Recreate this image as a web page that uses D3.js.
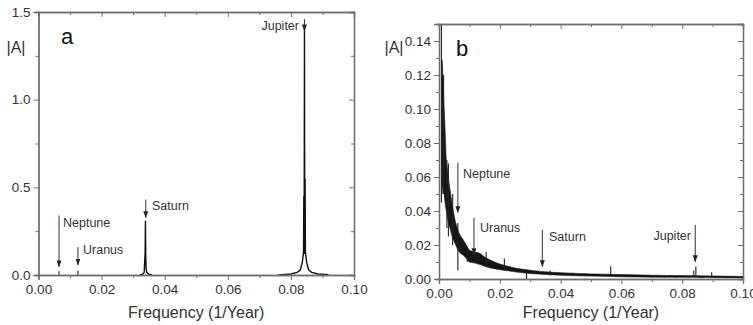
<!DOCTYPE html>
<html>
<head>
<meta charset="utf-8">
<script src="https://cdn.jsdelivr.net/npm/d3@7"></script>
<style>
  body { margin: 0; background: #fff; }
  svg { display: block; font-family: 'Liberation Sans', Arial, sans-serif; }
</style>
</head>
<body>
<div id="chart"></div>
<script>
// ---- panel a : spectrum of the planetary signal (freq, |A|) ----
const jupiterFreq = [0.0760, 0.0780, 0.0800, 0.0820, 0.0830, 0.0836, 0.0840, 0.0841, 0.0842, 0.0843, 0.0844, 0.0845, 0.0846, 0.0850, 0.0856, 0.0866, 0.0886, 0.0920];
const jupiterAmp = [0.000, 0.003, 0.006, 0.015, 0.030, 0.070, 0.130, 0.450, 0.120, 1.420, 0.120, 0.550, 0.130, 0.070, 0.030, 0.015, 0.006, 0.002];
const saturnFreq = [0.0320, 0.0330, 0.0335, 0.0338, 0.0339, 0.0340, 0.0341, 0.0343, 0.0350, 0.0360];
const saturnAmp = [0.000, 0.005, 0.015, 0.130, 0.310, 0.100, 0.040, 0.015, 0.004, 0.000];
const smallFreq = [0.0065, 0.0125];
const smallAmp = [0.022, 0.025];

// ---- panel b : spectrum of the residual (band envelope + spikes) ----
const bandFreq = [0.0010, 0.0013, 0.0017, 0.0020, 0.0024, 0.0028, 0.0032, 0.0036, 0.0040, 0.0045, 0.0050, 0.0055, 0.0060, 0.0066, 0.0072, 0.0080, 0.0090, 0.0100, 0.0115, 0.0135, 0.0150, 0.0170, 0.0200, 0.0220, 0.0250, 0.0300, 0.0350, 0.0400, 0.0500, 0.0600, 0.0700, 0.0800, 0.0900, 0.1000];
const bandLow = [0.050, 0.055, 0.050, 0.045, 0.040, 0.036, 0.032, 0.030, 0.027, 0.024, 0.022, 0.020, 0.018, 0.016, 0.015, 0.014, 0.012, 0.010, 0.0095, 0.0085, 0.0075, 0.0065, 0.0055, 0.005, 0.0042, 0.0032, 0.0027, 0.0022, 0.0017, 0.0013, 0.0011, 0.0010, 0.0009, 0.0007];
const bandHigh = [0.129, 0.119, 0.100, 0.088, 0.070, 0.064, 0.058, 0.053, 0.048, 0.042, 0.037, 0.033, 0.030, 0.027, 0.025, 0.023, 0.020, 0.017, 0.016, 0.015, 0.013, 0.011, 0.0088, 0.0078, 0.0065, 0.0052, 0.0042, 0.0037, 0.0030, 0.0026, 0.0022, 0.0020, 0.0018, 0.0015];
const tailFreq = [0.020, 0.022, 0.024, 0.026, 0.028, 0.030, 0.032, 0.034, 0.036, 0.038, 0.040, 0.042, 0.044, 0.046, 0.048, 0.050, 0.052, 0.054, 0.056, 0.058, 0.060, 0.062, 0.064, 0.066, 0.068, 0.070, 0.072, 0.074, 0.076, 0.078, 0.080, 0.082, 0.084, 0.086, 0.088, 0.090, 0.092, 0.094, 0.096, 0.098, 0.100];
const tailAmp = [0.0070, 0.0055, 0.0062, 0.0048, 0.0052, 0.0040, 0.0044, 0.0034, 0.0038, 0.0030, 0.0033, 0.0026, 0.0031, 0.0024, 0.0028, 0.0022, 0.0026, 0.0019, 0.0024, 0.0018, 0.0021, 0.0016, 0.0020, 0.0015, 0.0019, 0.0014, 0.0018, 0.0013, 0.0017, 0.0012, 0.0016, 0.0013, 0.0018, 0.0011, 0.0015, 0.0012, 0.0014, 0.0010, 0.0013, 0.0010, 0.0011];
const spikeFreq = [0.0008, 0.0015, 0.0026, 0.0031, 0.0045, 0.0062, 0.0093, 0.0155, 0.0215, 0.0288, 0.0365, 0.0565, 0.0838, 0.0845, 0.0897];
const spikeLow = [0.045, 0.050, 0.030, 0.025, 0.020, 0.005, 0.010, 0.007, 0.005, 0.000, 0.002, 0.002, 0.002, 0.002, 0.001];
const spikeHigh = [0.150, 0.120, 0.070, 0.068, 0.050, 0.033, 0.019, 0.016, 0.012, 0.004, 0.005, 0.0075, 0.005, 0.0073, 0.004];

// ---- planet annotations ----
const planets = ['Neptune', 'Uranus', 'Saturn', 'Jupiter'];
const arrowFreqA = [0.0065, 0.0125, 0.0340, 0.0843];
const arrowTopA = [0.34, 0.16, 0.43, 1.46];
const arrowEndA = [0.045, 0.055, 0.325, 1.39];
const arrowFreqB = [0.0062, 0.0115, 0.0340, 0.0843];
const arrowTopB = [0.0684, 0.0360, 0.0289, 0.0318];
const arrowEndB = [0.0389, 0.0141, 0.0071, 0.0100];

const xTicks = [0, 0.02, 0.04, 0.06, 0.08, 0.10];
const yTicksA = [0, 0.5, 1.0, 1.5];
const yTicksB = [0, 0.02, 0.04, 0.06, 0.08, 0.10, 0.12, 0.14];

const width = 753;
const height = 325;
const frameColor = '#6f6f6f';
const textColor = '#333';

const svg = d3.select('#chart').append('svg').attr('width', width).attr('height', height);

const defs = svg.append('defs');
// arrowhead pointing along the line direction
defs.append('marker')
  .attr('id', 'head')
  .attr('viewBox', '0 0 8 6')
  .attr('refX', 8)
  .attr('refY', 3)
  .attr('markerWidth', 7)
  .attr('markerHeight', 5)
  .attr('markerUnits', 'userSpaceOnUse')
  .attr('orient', 'auto')
  .append('path')
  .attr('d', 'M0,0 L8,3 L0,6 Z')
  .attr('fill', '#222');

function drawFrame(p) {
  const g = svg.append('g');
  const fmtX = d3.format('.2f');

  // bottom axis, outward ticks
  g.append('g')
    .attr('transform', `translate(0,${p.y.range()[0]})`)
    .call(d3.axisBottom(p.x).tickValues(p.xMinor).tickSize(3).tickFormat(''));
  g.append('g')
    .attr('transform', `translate(0,${p.y.range()[0]})`)
    .call(d3.axisBottom(p.x).tickValues(xTicks).tickSize(5).tickPadding(4).tickFormat(fmtX));
  // left axis
  g.append('g')
    .attr('transform', `translate(${p.x.range()[0]},0)`)
    .call(d3.axisLeft(p.y).tickValues(p.yMinor).tickSize(3).tickFormat(''));
  g.append('g')
    .attr('transform', `translate(${p.x.range()[0]},0)`)
    .call(d3.axisLeft(p.y).tickValues(p.yTicks).tickSize(5).tickPadding(3).tickFormat(p.yFmt));
  // top and right mirrors, inward ticks
  g.append('g')
    .attr('transform', `translate(0,${p.y.range()[1]})`)
    .call(d3.axisTop(p.x).tickValues(xTicks).tickSize(-5).tickFormat(''));
  g.append('g')
    .attr('transform', `translate(0,${p.y.range()[1]})`)
    .call(d3.axisTop(p.x).tickValues(p.xMinor).tickSize(-3).tickFormat(''));
  g.append('g')
    .attr('transform', `translate(${p.x.range()[1]},0)`)
    .call(d3.axisRight(p.y).tickValues(p.yTicks).tickSize(-5).tickFormat(''));
  g.append('g')
    .attr('transform', `translate(${p.x.range()[1]},0)`)
    .call(d3.axisRight(p.y).tickValues(p.yMinor).tickSize(-3).tickFormat(''));

  g.selectAll('.domain').attr('stroke', frameColor).attr('stroke-width', 1.3);
  g.selectAll('.tick line').attr('stroke', frameColor).attr('stroke-width', 1);
  g.selectAll('.tick text')
    .attr('fill', textColor)
    .style('font-size', '13.5px')
    .style('font-family', "'Liberation Sans', Arial, sans-serif");

  // axis titles and panel letter
  const cx = (p.x.range()[0] + p.x.range()[1]) / 2;
  svg.append('text')
    .attr('x', cx)
    .attr('y', 318)
    .attr('text-anchor', 'middle')
    .attr('fill', textColor)
    .style('font-size', '16px')
    .text('Frequency (1/Year)');
  svg.append('text')
    .attr('x', p.ylabX)
    .attr('y', 53)
    .attr('text-anchor', 'middle')
    .attr('fill', textColor)
    .style('font-size', '16px')
    .text('|A|');
  svg.append('text')
    .attr('x', p.letterX)
    .attr('y', p.letterY)
    .attr('text-anchor', 'middle')
    .attr('fill', '#111')
    .style('font-size', '22px')
    .text(p.letter);
}

function drawArrows(p, freq, top, end, labelX, labelY, anchors) {
  const g = svg.append('g');
  planets.forEach((name, i) => {
    g.append('line')
      .attr('x1', p.x(freq[i]))
      .attr('x2', p.x(freq[i]))
      .attr('y1', p.y(top[i]))
      .attr('y2', p.y(end[i]))
      .attr('stroke', '#444')
      .attr('stroke-width', 1.1)
      .attr('marker-end', 'url(#head)');
    g.append('text')
      .attr('x', labelX[i])
      .attr('y', labelY[i])
      .attr('text-anchor', anchors[i])
      .attr('fill', textColor)
      .style('font-size', '12.5px')
      .text(name);
  });
}

// ---------------- panel a ----------------
const xA = d3.scaleLinear().domain([0, 0.1]).range([38.5, 354]);
const yA = d3.scaleLinear().domain([0, 1.5]).range([275, 12]);
const pA = {
  x: xA, y: yA,
  xMinor: [0.01, 0.03, 0.05, 0.07, 0.09],
  yTicks: yTicksA,
  yMinor: [0.25, 0.75, 1.25],
  yFmt: d3.format('.1f'),
  ylabX: 16, letter: 'a', letterX: 67, letterY: 44,
};

const lineA = d3.line().x((d) => xA(d[0])).y((d) => yA(d[1]));
const gA = svg.append('g');
gA.append('path')
  .attr('d', lineA(jupiterFreq.map((f, i) => [f, jupiterAmp[i]])))
  .attr('stroke', '#111').attr('stroke-width', 1.4).attr('fill', 'none');
gA.append('path')
  .attr('d', lineA(saturnFreq.map((f, i) => [f, saturnAmp[i]])))
  .attr('stroke', '#111').attr('stroke-width', 1.4).attr('fill', 'none');
gA.selectAll('.small')
  .data(smallFreq)
  .join('line')
  .attr('x1', (d) => xA(d)).attr('x2', (d) => xA(d))
  .attr('y1', yA(0)).attr('y2', (d, i) => yA(smallAmp[i]))
  .attr('stroke', '#333').attr('stroke-width', 1.2);

drawFrame(pA);
drawArrows(pA, arrowFreqA, arrowTopA, arrowEndA, [63, 83, 152, 299], [227, 254, 210, 30], ['start', 'start', 'start', 'end']);

// ---------------- panel b ----------------
const xB = d3.scaleLinear().domain([0, 0.1]).range([439, 743]);
const yB = d3.scaleLinear().domain([0, 0.15]).range([279, 24]);
const pB = {
  x: xB, y: yB,
  xMinor: [0.01, 0.03, 0.05, 0.07, 0.09],
  yTicks: yTicksB,
  yMinor: [0.01, 0.03, 0.05, 0.07, 0.09, 0.11, 0.13],
  yFmt: d3.format('.2f'),
  ylabX: 394, letter: 'b', letterX: 462, letterY: 56,
};

defs.append('clipPath').attr('id', 'clipB')
  .append('rect')
  .attr('x', xB.range()[0]).attr('y', yB.range()[1])
  .attr('width', xB.range()[1] - xB.range()[0])
  .attr('height', yB.range()[0] - yB.range()[1]);

const gB = svg.append('g').attr('clip-path', 'url(#clipB)');
const areaB = d3.area()
  .x((d) => xB(d.f))
  .y0((d) => yB(d.lo))
  .y1((d) => yB(d.hi))
  .curve(d3.curveMonotoneX);
gB.append('path')
  .attr('d', areaB(bandFreq.map((f, i) => ({ f, lo: bandLow[i], hi: bandHigh[i] }))))
  .attr('fill', '#151515')
  .attr('stroke', '#151515')
  .attr('stroke-width', 0.6);
gB.append('path')
  .attr('d', d3.line().x((d, i) => xB(tailFreq[i])).y((d) => yB(d))(tailAmp))
  .attr('fill', 'none')
  .attr('stroke', '#111')
  .attr('stroke-width', 1);
gB.selectAll('.spike')
  .data(spikeFreq)
  .join('line')
  .attr('x1', (d) => xB(d)).attr('x2', (d) => xB(d))
  .attr('y1', (d, i) => yB(spikeLow[i]))
  .attr('y2', (d, i) => yB(spikeHigh[i]))
  .attr('stroke', '#222')
  .attr('stroke-width', 1.1);

drawFrame(pB);
drawArrows(pB, arrowFreqB, arrowTopB, arrowEndB, [463, 480, 549, 691], [178, 232, 241, 240], ['start', 'start', 'start', 'end']);
</script>
</body>
</html>
